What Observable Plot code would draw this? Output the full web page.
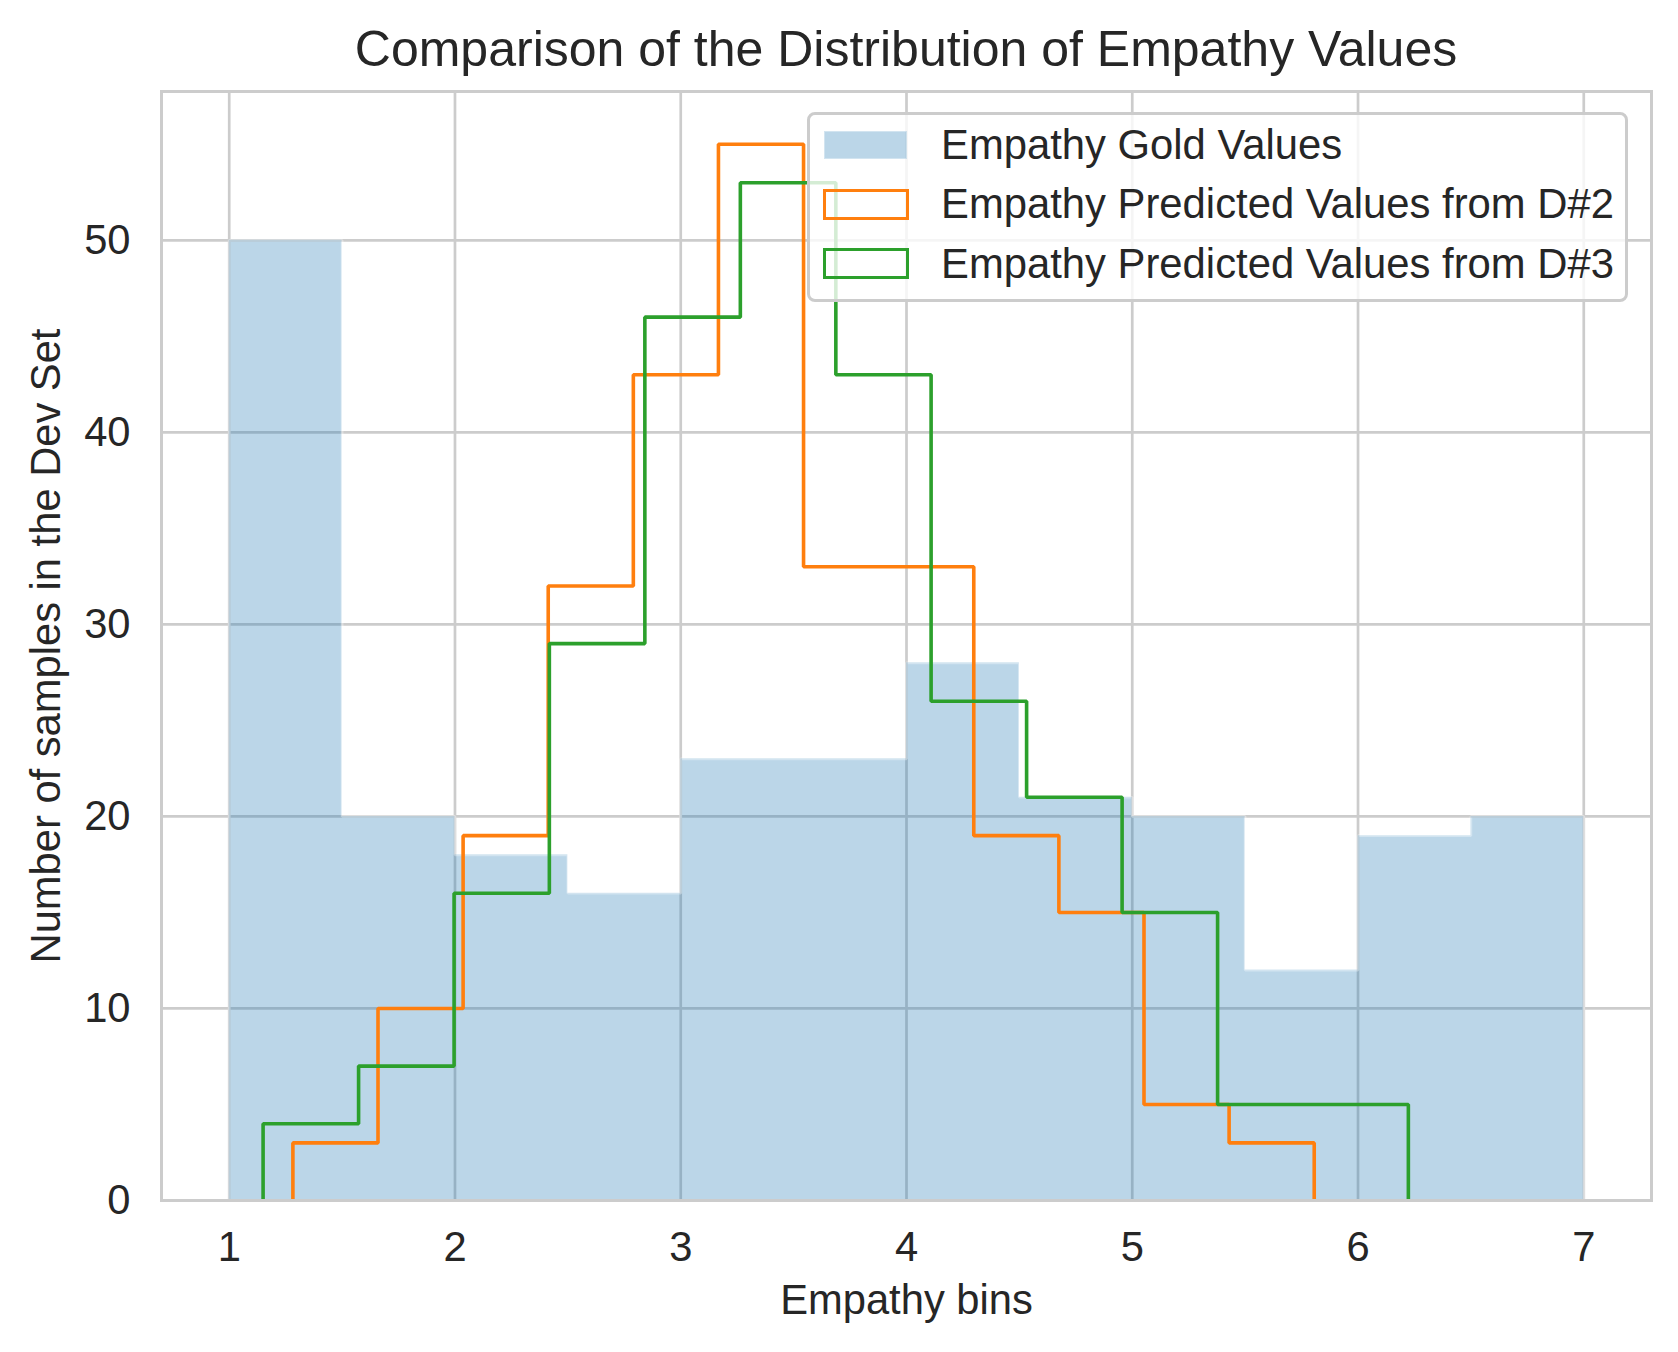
<!DOCTYPE html>
<html>
<head>
<meta charset="utf-8">
<script src="https://cdn.jsdelivr.net/npm/d3@7"></script>
<script src="https://cdn.jsdelivr.net/npm/@observablehq/plot@0.6"></script>
<style>
  body { margin: 0; background: #fff; }
  #wrap { position: relative; width: 1678px; height: 1352px; font-family: "Liberation Sans", Arial, sans-serif; color: #262626; }
  #title { box-sizing: border-box; height: 80px; padding-top: 24px; padding-left: 134px; font-size: 50px; line-height: 50px; text-align: center; white-space: nowrap; }
  #legend { position: absolute; left: 807px; top: 112px; width: 821px; height: 190px; box-sizing: border-box; border: 3px solid #cccccc; border-radius: 8px; background: rgba(255,255,255,0.8); }
  .row { position: absolute; left: 0; height: 59px; display: flex; align-items: center; font-size: 41.8px; white-space: nowrap; }
  .cell { width: 131px; height: 59px; display: flex; align-items: center; }
  .sw { box-sizing: border-box; }
</style>
</head>
<body>
<div id="wrap">
  <div id="title">Comparison of the Distribution of Empathy Values</div>
  <div id="chart"></div>
  <div id="legend"></div>
</div>
<script>
// histogram bins
const goldEdges = [1, 1.5, 2, 2.5, 3, 3.5, 4, 4.5, 5, 5.5, 6, 6.5, 7];
const goldCounts = [50, 20, 18, 16, 23, 23, 28, 21, 20, 12, 19, 20];
const d2Edges = [1.282, 1.659, 2.036, 2.413, 2.790, 3.167, 3.544, 3.921, 4.298, 4.675, 5.052, 5.429, 5.806];
const d2Counts = [3, 10, 19, 32, 43, 55, 33, 33, 19, 15, 5, 3];
const d3Edges = [1.150, 1.573, 1.996, 2.418, 2.841, 3.264, 3.687, 4.109, 4.532, 4.955, 5.378, 5.800, 6.223];
const d3Counts = [4, 7, 16, 29, 46, 53, 43, 26, 21, 15, 5, 5];
const xTicks = [1, 2, 3, 4, 5, 6, 7];
const yTicks = [0, 10, 20, 30, 40, 50];
const seriesNames = ["Empathy Gold Values", "Empathy Predicted Values from D#2", "Empathy Predicted Values from D#3"];
const colors = ["#1f77b4", "#ff7f0e", "#2ca02c"];

// step outline of a histogram (histtype "step")
function outline(edges, counts) {
  const pts = [{x: edges[0], y: 0}];
  counts.forEach((c, i) => pts.push({x: edges[i], y: c}, {x: edges[i + 1], y: c}));
  pts.push({x: edges[edges.length - 1], y: 0});
  return pts;
}

const gold = outline(goldEdges, goldCounts);
const stepStyle = {x: "x", y: "y", strokeWidth: 3.6, strokeLinejoin: "miter", strokeLinecap: "butt"};

const chart = Plot.plot({
  width: 1678,
  height: 1272,
  marginTop: 11,
  marginBottom: 152,
  marginLeft: 161,
  marginRight: 27,
  style: {fontFamily: "Liberation Sans, Arial, sans-serif", fontSize: "41.7px", color: "#262626", background: "white", overflow: "visible"},
  x: {domain: [0.7, 7.3]},
  y: {domain: [0, 57.75]},
  marks: [
    Plot.gridX(xTicks, {stroke: "#cccccc", strokeOpacity: 1, strokeWidth: 2.7}),
    Plot.gridY(yTicks, {stroke: "#cccccc", strokeOpacity: 1, strokeWidth: 2.7}),
    // stepfilled gold histogram with a faint white edge (no stacking)
    Plot.area(gold, {x1: "x", y1: 0, y2: "y", fill: colors[0], fillOpacity: 0.3}),
    Plot.line([...gold, gold[0]], {x: "x", y: "y", stroke: "white", strokeOpacity: 0.35, strokeWidth: 2.7, strokeLinejoin: "miter"}),
    Plot.line(outline(d2Edges, d2Counts), {...stepStyle, stroke: colors[1]}),
    Plot.line(outline(d3Edges, d3Counts), {...stepStyle, stroke: colors[2]}),
    Plot.frame({stroke: "#cccccc", strokeWidth: 3}),
    Plot.axisX(xTicks, {tickSize: 0, tickPadding: 31, tickFormat: d => String(d), fill: "#262626", label: "Empathy bins", labelAnchor: "center", labelArrow: "none", labelOffset: 113}),
    Plot.axisY(yTicks, {tickSize: 0, tickPadding: 31, tickFormat: d => String(d), fill: "#262626", label: "Number of samples in the Dev Set", labelAnchor: "center", labelArrow: "none", labelOffset: 131})
  ]
});

d3.select("#chart").append(() => chart);

// legend overlay, matplotlib style
const legend = d3.select("#legend");
seriesNames.forEach((name, i) => {
  const row = legend.append("div").attr("class", "row").style("top", (0.5 + i * 59.3) + "px");
  const cell = row.append("div").attr("class", "cell");
  const sw = cell.append("div").attr("class", "sw");
  if (i === 0) {
    sw.style("margin-left", "14px").style("width", "83px").style("height", "28px")
      .style("background", "rgba(31,119,180,0.3)").style("border", "1.5px solid rgba(255,255,255,0.35)");
  } else {
    sw.style("margin-left", "12.5px").style("width", "86px").style("height", "31.5px")
      .style("border", `3.6px solid ${colors[i]}`);
  }
  row.append("div").text(name);
});
</script>
</body>
</html>
